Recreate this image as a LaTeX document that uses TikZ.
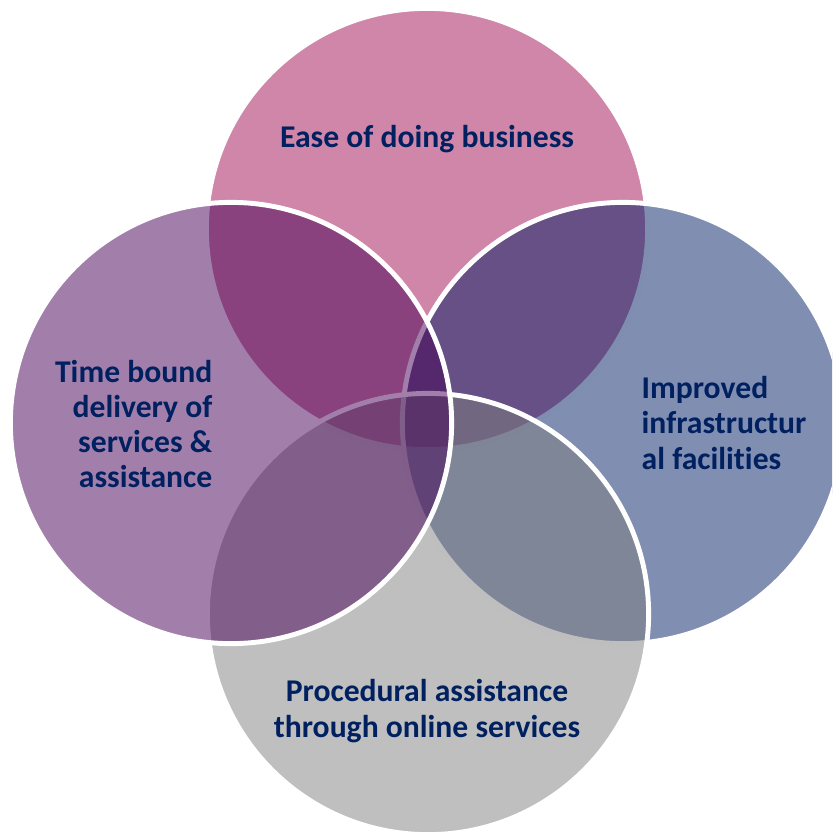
\documentclass[tikz,border=0pt]{standalone}
\usepackage{fontspec}
\setmainfont{Carlito}[Ligatures=NoCommon]
\definecolor{easepink}{RGB}{159,13,81}
\definecolor{infranavy}{RGB}{0,29,99}
\definecolor{onlinegray}{RGB}{127,127,127}
\definecolor{timepurple}{RGB}{69,0,87}
\definecolor{labelblue}{RGB}{0,32,96}

\begin{document}
\begin{tikzpicture}[x=0.01cm,y=-0.01cm]

%
% Styles
%
\tikzstyle{petal} = [circle,minimum size=4.41cm,draw=white,line width=1.4pt,fill opacity=0.5,draw opacity=1]
\tikzstyle{label} = [text=labelblue,font=\fontsize{9}{10}\selectfont\bfseries,inner sep=0pt]

\useasboundingbox (0,0) rectangle (832,839);
\clip (0,0) rectangle (832,839);

\node[petal,fill=easepink]   (ease)   at (427,229) {};
\node[petal,fill=infranavy]  (infra)  at (623,423) {};
\node[petal,fill=onlinegray] (online) at (428,614) {};
\node[petal,fill=timepurple] (time)   at (231,423) {};

\node[label] (easetext) at (427,139) {Ease of doing business};
\node[label,align=right,anchor=east] (timetext) at (213,424) {Time bound\\delivery of\\services \&\\assistance};
\node[label,align=left,anchor=west] (infratext) at (641,423) {Improved\\infrastructur\\al facilities};
\node[label,align=center] (onlinetext) at (427,711) {Procedural assistance\\through online services};

\end{tikzpicture}
\end{document}
